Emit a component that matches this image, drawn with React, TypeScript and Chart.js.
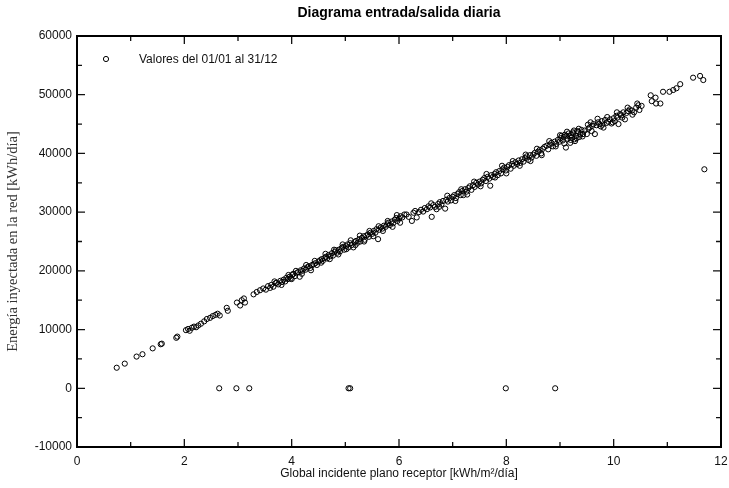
import React, { useEffect, useRef } from "react";
import { Chart, registerables } from "chart.js";

Chart.register(...registerables);

const chartTitle = "Diagrama entrada/salida diaria";
const seriesLabel = "Valores del 01/01 al 31/12";
const xAxisTitle = "Global incidente plano receptor [kWh/m²/día]";
const yAxisTitle = "Energía inyectada en la red [kWh/día]";

// Global irradiance on the receiver plane [kWh/m²/día]
const irradiance = [
  0.74, 0.89, 1.11, 1.22, 1.41, 1.56, 1.58, 1.85, 1.87, 2.03,
  2.07, 2.10, 2.14, 2.18, 2.22, 2.26, 2.31, 2.37, 2.42, 2.48,
  2.53, 2.58, 2.62, 2.66, 2.79, 2.81, 2.98, 3.04, 3.07, 3.11,
  3.13, 3.29, 3.35, 3.41, 3.47, 3.52, 3.56, 3.60,
  3.62, 3.66, 3.70, 3.72, 3.75, 3.79, 3.82, 3.85, 3.88, 3.90,
  3.93, 3.96, 3.98, 4.01, 4.03, 4.06, 4.09, 4.12, 4.15, 4.17,
  4.20, 4.23, 4.26, 4.29, 4.32, 4.35, 4.38, 4.41, 4.44, 4.47, 4.50,
  4.53, 4.56, 4.58, 4.61, 4.64, 4.66, 4.69, 4.72, 4.75, 4.77,
  4.80, 4.82, 4.85, 4.88, 4.90, 4.93, 4.96, 4.98, 5.01, 5.04,
  5.06, 5.09, 5.12, 5.15, 5.17, 5.20, 5.23, 5.26, 5.28, 5.31,
  5.34, 5.36, 5.39, 5.42, 5.44, 5.47, 5.50,
  5.53, 5.56, 5.58, 5.61, 5.63, 5.66, 5.69, 5.72, 5.75, 5.78,
  5.80, 5.83, 5.86, 5.89, 5.92, 5.95, 5.97, 6.00, 6.03, 6.06,
  6.10, 6.14, 6.18, 6.24, 6.27, 6.30, 6.33, 6.37, 6.41, 6.45, 6.48,
  6.52, 6.55, 6.58, 6.61, 6.64, 6.67, 6.70, 6.73, 6.76, 6.79,
  6.82, 6.86, 6.88, 6.91, 6.94, 6.97, 7.00, 7.03, 7.06, 7.09,
  7.12, 7.15, 7.18, 7.20, 7.23, 7.26, 7.29, 7.32, 7.35, 7.38,
  7.41, 7.44, 7.47,
  7.50, 7.53, 7.56, 7.59, 7.62, 7.65, 7.68, 7.70, 7.72, 7.75,
  7.78, 7.81, 7.84, 7.87, 7.90, 7.93, 7.96, 7.99, 8.02, 8.05,
  8.08, 8.11, 8.14, 8.17, 8.20, 8.23, 8.26, 8.29, 8.32, 8.35,
  8.38, 8.41, 8.44, 8.47,
  8.50, 8.53, 8.56, 8.59, 8.62, 8.65, 8.68, 8.71, 8.75, 8.78,
  8.81, 8.84, 8.87, 8.90, 8.93, 8.96, 8.99, 9.01, 9.03, 9.05,
  9.07, 9.09, 9.11, 9.12, 9.14, 9.16, 9.18, 9.19, 9.21, 9.22,
  9.24, 9.25, 9.27, 9.28, 9.30, 9.32, 9.34, 9.36, 9.38, 9.40,
  9.43, 9.46, 9.50,
  9.53, 9.55, 9.57, 9.60, 9.62, 9.65, 9.68, 9.71, 9.73, 9.76,
  9.78, 9.81, 9.84, 9.87, 9.90, 9.93, 9.96, 10.00, 10.02, 10.05,
  10.07, 10.09, 10.12, 10.14, 10.18, 10.21, 10.24, 10.27, 10.30, 10.34,
  10.38, 10.42, 10.46, 10.52,
  10.69, 10.71, 10.78, 10.79, 10.87, 10.92, 11.04, 11.11, 11.17, 11.24,
  11.48, 11.61, 11.67, 11.69,
  2.65, 2.97, 3.21, 5.06, 5.09, 7.99, 8.91,
  3.68, 3.81, 3.94, 4.00, 4.08, 4.19, 4.27, 4.36, 4.43, 4.55,
  4.63, 4.71, 4.79, 4.87, 4.95, 5.02, 5.10, 5.19, 5.27, 5.35,
  5.45, 5.52, 5.62, 5.70, 5.79, 5.88, 5.96, 6.02,
  6.60, 6.75, 6.90, 7.05, 7.16, 7.27, 7.40, 7.52, 7.63, 7.79,
  7.92, 8.00, 8.12, 8.25, 8.36, 8.45, 8.57, 8.66, 8.80, 8.92,
  9.00, 9.08, 9.13, 9.20, 9.26, 9.31, 9.35, 9.42, 9.52, 9.59,
  9.70, 9.79, 9.88, 9.98, 10.06, 10.16, 10.26, 10.35, 10.44, 10.48,
];

// Energy injected into the grid [kWh/día]
const energy = [
  3500, 4200, 5400, 5800, 6800, 7500, 7600, 8600, 8800, 9900,
  10100, 9800, 10300, 10500, 10400, 10700, 11000, 11400, 11800, 12000,
  12300, 12500, 12700, 12400, 13700, 13200, 14600, 14100, 15000, 15300,
  14600, 16000, 16400, 16700, 17000, 16800, 17400, 17100,
  17600, 17300, 17900, 18000, 17700, 18300, 18100, 18500, 18200, 18800,
  18600, 19000, 18700, 19300, 19500, 19100, 19600, 19800, 19000, 20100,
  20000, 20400, 20200, 20600, 20800, 20500, 21000, 21100, 21300, 21000, 21600,
  21800, 22000, 21700, 22200, 22400, 22100, 22700, 22500, 23000, 22600,
  23200, 23500, 23100, 23600, 23300, 23900, 24100, 23600, 24200, 24500,
  24000, 24700, 24400, 24000, 24900, 25100, 24800, 25400, 25000, 25600,
  25900, 25300, 26000, 26200, 25800, 26500, 26300,
  26800, 26500, 27100, 25400, 27000, 27400, 27200, 27700, 27500, 27900,
  28200, 27800, 28400, 28100, 28700, 29000, 28500, 28900, 29300, 29100,
  29600, 29600, 29200, 28500, 29900, 30200, 29100, 30000, 30400, 30100, 30700,
  30500, 31000, 30800, 29200, 31200, 30900, 30500, 31400, 31700, 31300,
  31900, 30600, 32100, 31800, 32400, 32000, 32600, 32900, 32400, 33100,
  33400, 32900, 33600, 32900, 33900, 33500, 34100, 34400, 33800, 34600,
  34300, 35000, 34700,
  35200, 34900, 35500, 35800, 35300, 36000, 35700, 34500, 36300, 36000,
  36500, 36800, 36300, 37000, 36600, 37300, 37600, 37100, 37700, 38000,
  37400, 38200, 37900, 38500, 38200, 38800, 38400, 39000, 38600, 39200,
  39500, 38900, 39700, 39300,
  39800, 40100, 39600, 40300, 40600, 40000, 40800, 41100, 41300, 40700,
  41500, 41800, 41200, 42000, 41600, 42300, 42000, 42600, 43000, 42200,
  42800, 43200, 41000, 43000, 42500, 43400, 42900, 41800, 43100, 42700,
  43600, 43400, 42400, 42100, 43000, 43800, 43700, 42800, 43300, 44000,
  43300, 43900, 43300,
  44200, 44400, 45300, 44700, 45000, 43300, 44800, 45300, 45000, 44600,
  45500, 44400, 45700, 45200, 45400, 45800, 45100, 46000, 45500, 46400,
  46100, 45000, 46700, 46500, 47000, 45800, 46900, 47200, 47500, 47300,
  47000, 47800, 48200, 48100,
  49900, 48900, 49500, 48500, 48500, 50500, 50500, 50800, 51100, 51800,
  52900, 53200, 52500, 37300,
  0, 0, 0, 0, 0, 0, 0,
  18200, 17600, 19300, 18600, 20000, 19500, 21000, 20100, 21700, 21400,
  22900, 22000, 23600, 22800, 24500, 23700, 25200, 24400, 26000, 25000,
  26800, 25900, 27600, 26800, 28500, 27500, 29500, 28200,
  31500, 30900, 32800, 31900, 33900, 33000, 35200, 34400, 36500, 35900,
  37900, 36600, 38700, 37900, 39800, 38700, 40800, 39700, 42100, 41200,
  43100, 41700, 43700, 42300, 43900, 42600, 44200, 42900, 44900, 43800,
  45900, 44900, 46200, 45300, 47000, 46100, 47800, 46600, 48500, 47400,
];

const xMajorTicks = [0, 2, 4, 6, 8, 10, 12];
const xMinorTicks = [1, 3, 5, 7, 9, 11];
const yMajorTicks = [-10000, 0, 10000, 20000, 30000, 40000, 50000, 60000];
const yMinorTicks = [-5000, 5000, 15000, 25000, 35000, 45000, 55000];

const SANS = "'Liberation Sans', Arial, Helvetica, sans-serif";
const SERIF = "'Liberation Serif', 'Times New Roman', serif";

const framePlugin = {
  id: "frameTicks",
  afterDraw(chart: any) {
    const { ctx, chartArea: a, scales } = chart;
    const xs = scales.x;
    const ys = scales.y;
    ctx.save();
    ctx.strokeStyle = "#111";
    ctx.lineWidth = 1.3;
    ctx.beginPath();
    const xt = (v: number, len: number) => {
      const px = xs.getPixelForValue(v);
      ctx.moveTo(px, a.bottom);
      ctx.lineTo(px, a.bottom - len);
      ctx.moveTo(px, a.top);
      ctx.lineTo(px, a.top + len);
    };
    const yt = (v: number, len: number) => {
      const py = ys.getPixelForValue(v);
      ctx.moveTo(a.left, py);
      ctx.lineTo(a.left + len, py);
      ctx.moveTo(a.right, py);
      ctx.lineTo(a.right - len, py);
    };
    xMajorTicks.forEach((v) => xt(v, 8));
    xMinorTicks.forEach((v) => xt(v, 5));
    yMajorTicks.forEach((v) => yt(v, 8));
    yMinorTicks.forEach((v) => yt(v, 5));
    ctx.stroke();

    ctx.strokeStyle = "#000";
    ctx.lineWidth = 2;
    ctx.strokeRect(a.left, a.top, a.right - a.left, a.bottom - a.top);

    // title
    ctx.fillStyle = "#000";
    ctx.font = `bold 14px ${SANS}`;
    ctx.textAlign = "center";
    ctx.textBaseline = "middle";
    ctx.fillText(chartTitle, (a.left + a.right) / 2, 13);

    // legend inside plot
    ctx.beginPath();
    ctx.lineWidth = 1;
    ctx.arc(a.left + 29, a.top + 23, 2.6, 0, Math.PI * 2);
    ctx.stroke();
    ctx.font = `12px ${SANS}`;
    ctx.textAlign = "left";
    ctx.fillStyle = "#111";
    ctx.fillText(seriesLabel, a.left + 62, a.top + 24);
    ctx.restore();
  },
};

export default function App() {
  const canvasRef = useRef<HTMLCanvasElement | null>(null);

  useEffect(() => {
    document.body.style.margin = "0";
    const canvas = canvasRef.current;
    if (!canvas) return;
    const points = irradiance.map((x, i) => ({ x, y: energy[i] }));
    const chart = new Chart(canvas, {
      type: "scatter",
      data: {
        datasets: [
          {
            label: seriesLabel,
            data: points,
            pointStyle: "circle",
            pointRadius: 2.6,
            pointBorderWidth: 1,
            pointBorderColor: "#000",
            pointBackgroundColor: "rgba(0,0,0,0)",
            showLine: false,
          },
        ],
      },
      options: {
        responsive: false,
        animation: false,
        maintainAspectRatio: false,
        layout: { padding: { top: 36, right: 8, left: 0, bottom: 0 } },
        plugins: {
          legend: { display: false },
          title: { display: false },
          tooltip: { enabled: false },
        },
        scales: {
          x: {
            type: "linear",
            min: 0,
            max: 12,
            grid: { display: false, drawTicks: false },
            border: { display: false },
            ticks: {
              stepSize: 2,
              padding: 7,
              color: "#111",
              font: { family: SANS, size: 12 },
              callback: (v: any) => String(v),
              maxRotation: 0,
            },
            title: {
              display: true,
              text: xAxisTitle,
              color: "#111",
              font: { family: SANS, size: 12 },
              padding: { top: 0, bottom: 7 },
            },
            afterFit: (s: any) => {
              s.height = 41;
              s.paddingLeft = 0;
              s.paddingRight = 0;
            },
          },
          y: {
            type: "linear",
            min: -10000,
            max: 60000,
            grid: { display: false, drawTicks: false },
            border: { display: false },
            ticks: {
              stepSize: 10000,
              padding: 5,
              color: "#111",
              font: { family: SANS, size: 12 },
              callback: (v: any) => String(v),
            },
            title: {
              display: true,
              text: yAxisTitle,
              color: "#333",
              font: { family: SERIF, size: 14.5 },
              padding: { top: 4, bottom: 0 },
            },
            afterFit: (s: any) => {
              s.width = 77;
              s.paddingTop = 0;
              s.paddingBottom = 0;
            },
          },
        },
      },
      plugins: [framePlugin],
    });
    return () => chart.destroy();
  }, []);

  return (
    <div style={{ position: "absolute", left: 0, top: 0, width: 729, height: 488, background: "#fff" }}>
      <canvas ref={canvasRef} width={729} height={488} style={{ width: 729, height: 488, display: "block" }} />
    </div>
  );
}
